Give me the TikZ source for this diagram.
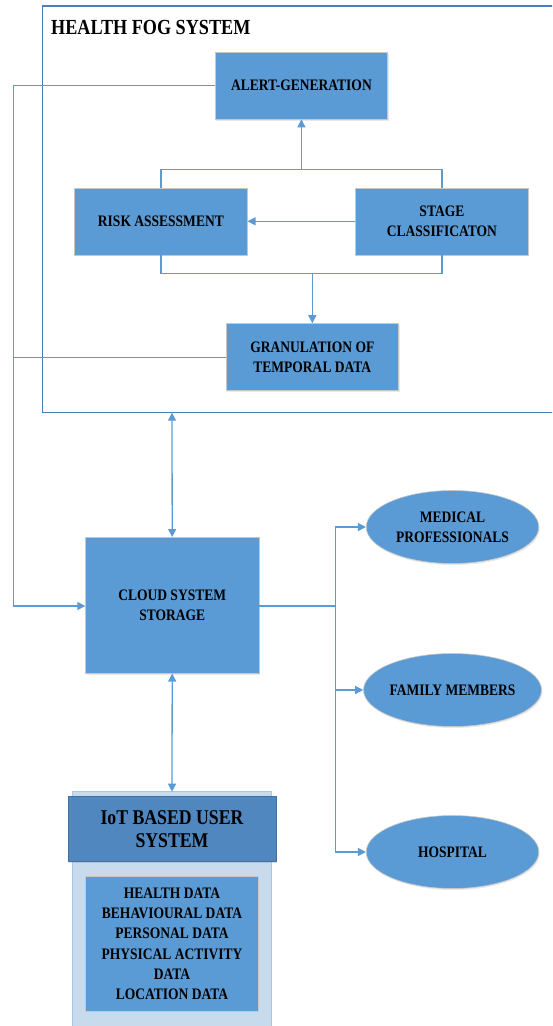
\documentclass[tikz,border=0pt]{standalone}
\usepackage{fontspec}
\setmainfont{Liberation Serif}[FakeStretch=0.845]
\usetikzlibrary{arrows.meta,shapes.geometric,shadows}
\definecolor{obl}{HTML}{5B9BD5}
\definecolor{fogline}{HTML}{4A7EBB}
\definecolor{hdr}{HTML}{4F87BE}
\definecolor{hdrline}{HTML}{41719C}
\definecolor{pale}{HTML}{C8DBEC}
\definecolor{paleline}{HTML}{A9C6E3}
\tikzset{
  bluebox/.style={rectangle, fill=obl, draw=white!78!black, line width=0.6pt,
    drop shadow={opacity=0.18, shadow xshift=1pt, shadow yshift=-1.5pt},
    font=\fontsize{16}{20}\selectfont\bfseries, align=center, inner sep=0pt,
    minimum width=172.6pt, minimum height=67pt},
  blueell/.style={ellipse, fill=obl, draw=white!78!black, line width=0.6pt,
    drop shadow={opacity=0.18, shadow xshift=1pt, shadow yshift=-1.5pt},
    font=\fontsize{16}{20}\selectfont\bfseries, align=center, inner sep=0pt,
    minimum width=172.5pt, minimum height=73pt},
  conn/.style={draw=obl, line width=1.3pt},
  arr/.style={conn, -{Triangle[length=8pt,width=8pt]}},
  darr/.style={conn, {Triangle[length=8pt,width=8pt]}-{Triangle[length=8pt,width=8pt]}},
}
\begin{document}
\begin{tikzpicture}[x=1pt,y=-1pt]
\useasboundingbox (0,0) rectangle (552,1026);
\clip (0,0) rectangle (552,1026);
% fog system frame
\coordinate (fogTL) at (42.3,6);
\coordinate (fogBR) at (560,412.7);
\draw[fogline, line width=1.3pt] (fogTL) rectangle (fogBR);
\node[anchor=base west, inner sep=0pt, font=\fontsize{21.5}{24}\selectfont\bfseries] (title) at (51,34.3) {HEALTH FOG SYSTEM};
\coordinate (fogbot) at (172,412.7);

\node[bluebox] (alert) at (301.4,85.5) {ALERT-GENERATION};
\node[bluebox] (risk) at (160.9,221.3) {RISK ASSESSMENT};
\node[bluebox] (stage) at (441.9,221.3) {STAGE\\CLASSIFICATON};
\node[bluebox] (gran) at (312.3,357) {GRANULATION OF\\TEMPORAL DATA};

% IoT system
\coordinate (iotTL) at (72.5,791.7);
\coordinate (iotBR) at (271.8,1040);
\draw[fill=pale, draw=paleline, line width=1pt] (iotTL) rectangle (iotBR);
\coordinate (iottop) at (172,791.7);
\node[rectangle, fill=hdr, draw=hdrline, line width=0.8pt,
  drop shadow={opacity=0.25, shadow xshift=1pt, shadow yshift=-1.5pt},
  minimum width=208pt, minimum height=65pt, inner sep=0pt, align=center,
  font=\fontsize{21}{23.3}\selectfont\bfseries] (hdr) at (172,829.2) {IoT BASED USER\\SYSTEM};
\node[bluebox, minimum height=134.3pt, font=\fontsize{16}{20.3}\selectfont\bfseries] (data) at (172,943.8)
  {HEALTH DATA\\BEHAVIOURAL DATA\\PERSONAL DATA\\PHYSICAL ACTIVITY\\DATA\\LOCATION DATA};

\node[bluebox, minimum width=173.2pt, minimum height=136pt] (cloud) at (172.2,605.3) {CLOUD SYSTEM\\STORAGE};

\node[blueell] (med) at (452.5,527) {MEDICAL\\PROFESSIONALS};
\node[blueell] (fam) at (452.5,690) {FAMILY MEMBERS};
\node[blueell] (hosp) at (452.5,852) {HOSPITAL};

% coordinates of bends
\coordinate (lx1) at (13.4,85.5);
\coordinate (lx2) at (13.4,606);
\coordinate (lg) at (13.4,357.7);
\coordinate (topbar) at (301.4,169.3);
\coordinate (botbar) at (312.3,273.3);
\coordinate (split) at (335.6,606);

% connectors
\draw[arr] (alert.west) -- (lx1) -- (lx2) -- (cloud.west |- lx2);
\draw[conn] (gran.west |- lg) -- (lg);
\draw[conn] (risk.north) |- (topbar) -| (stage.north);
\draw[arr] (topbar) -- (alert.south);
\draw[arr] (stage.west) -- (risk.east);
\draw[conn] (risk.south) |- (botbar) -| (stage.south);
\draw[arr] (botbar) -- (gran.north);
\draw[darr] (fogbot) -- (cloud.north);
\draw[darr] (cloud.south) -- (iottop);
\draw[conn] (cloud.east |- split) -- (split);
\draw[arr] (split) |- (med.west);
\draw[arr] (split) |- (fam.west);
\draw[arr] (split) |- (hosp.west);
\end{tikzpicture}
\end{document}
